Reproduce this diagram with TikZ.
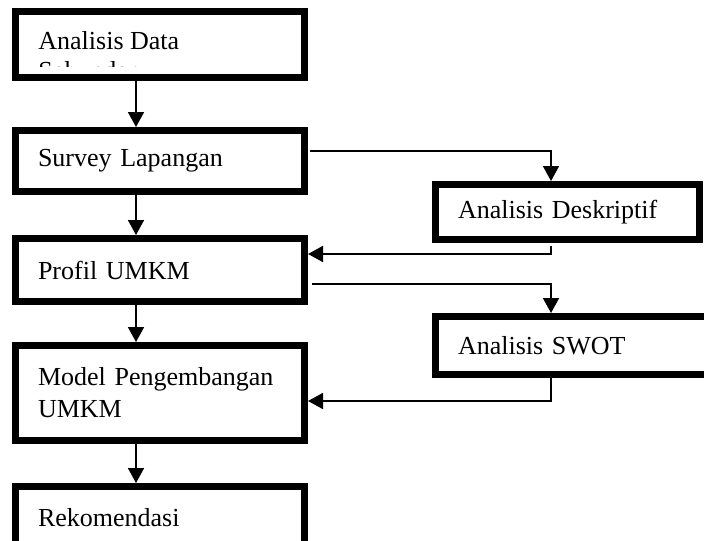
\documentclass[tikz,border=0pt]{standalone}
\usepackage{fontspec}
\setmainfont{Liberation Serif}
\usepackage{tikz}
\usetikzlibrary{arrows.meta, positioning, calc}

\begin{document}
\begin{tikzpicture}[x=0.5pt, y=-0.5pt,
            procbox/.style={rectangle, draw=black, line width=3.5pt, text width=122pt, inner xsep=11.25pt, inner ysep=0pt, align=left, font=\fontsize{13}{16}\selectfont},
            sidebox/.style={procbox, text width=109.5pt},
            conn/.style={draw=black, line width=0.9pt, -{Triangle[length=7.5pt, width=8pt]}}]
            \clip (0,0) rectangle (704,540);
            \coordinate (spine) at (136,0);
            \coordinate (branch) at (551,0);
            % left column
            \node[procbox, minimum height=33pt] (data) at (160,44.5) {};
            \begin{scope}
                \clip (15.5,11.5) rectangle (304.5,67);
                \node[anchor=north west, inner sep=0pt, align=left, font=\fontsize{13}{15}\selectfont] (datatxt) at (38,31) {Analisis Data\\Sekunder};
            \end{scope}
            \node[procbox, minimum height=30.5pt] (survey) at (160,161) {Survey Lapangan};
            \node[procbox, minimum height=31.5pt] (profil) at (160,270) {Profil UMKM};
            \node[procbox, minimum height=47.5pt] (model) at (160,393) {Model Pengembangan\\UMKM};
            \node[procbox, minimum height=31.5pt] (rek) at (160,518) {Rekomendasi};
            % right column
            \node[sidebox, minimum height=27.5pt] (desk) at (567.5,212) {Analisis Deskriptif};
            \node[sidebox, text width=127.5pt, minimum height=29pt] (swot) at (585.5,345.5) {Analisis SWOT};
            \draw[conn] (data.south -| spine) -- (survey.north -| spine);
            \draw[conn] (survey.south -| spine) -- (profil.north -| spine);
            \draw[conn] (profil.south -| spine) -- (model.north -| spine);
            \draw[conn] (model.south -| spine) -- (rek.north -| spine);
            \draw[conn] ([xshift=1pt, yshift=5pt]survey.east) -| (desk.north -| branch);
            \draw[conn] ([yshift=-1.5pt]desk.south -| branch) |- ([yshift=8pt]profil.east);
            \draw[conn] ([xshift=2pt, yshift=-7pt]profil.east) -| (swot.north -| branch);
            \draw[conn] (swot.south -| branch) |- ([yshift=-4pt]model.east);
        \end{tikzpicture}
\end{document}
